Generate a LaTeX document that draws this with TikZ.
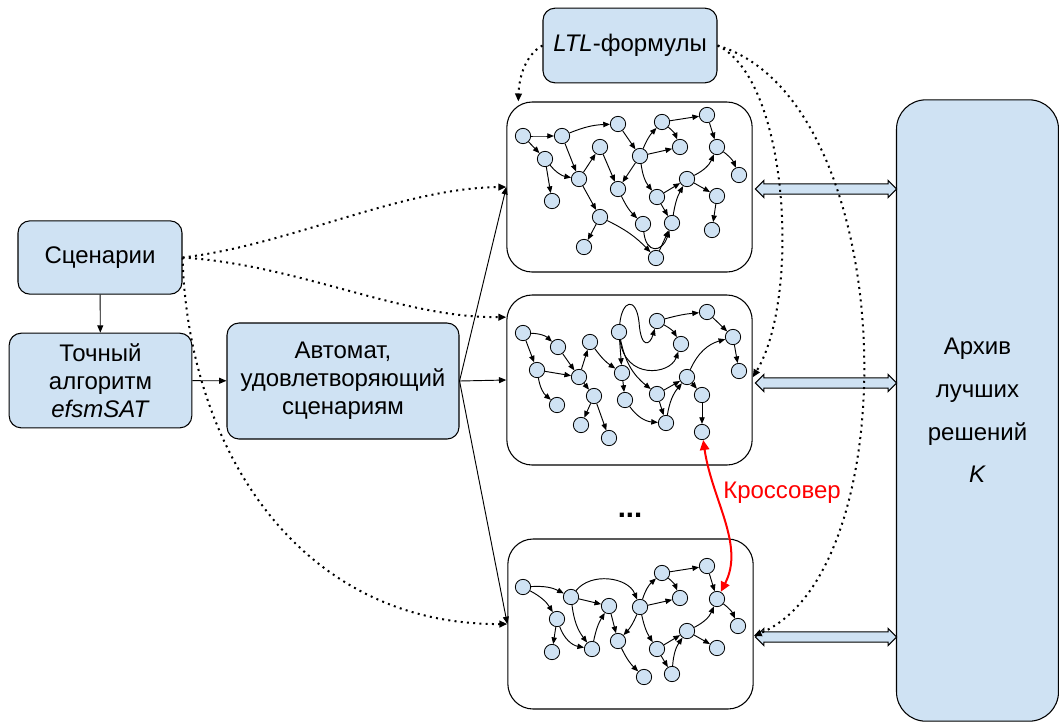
\documentclass[tikz,border=0pt]{standalone}
\usepackage{fontspec}
\setmainfont{Liberation Sans}
\usetikzlibrary{arrows.meta,shapes.arrows,calc}
\definecolor{boxFill}{HTML}{CFE2F3}
\definecolor{xoColor}{HTML}{FF0000}
\tikzset{
	block/.style={draw, rounded corners=9pt, fill=boxFill, line width=0.8pt, align=center, inner sep=0pt},
	pool/.style={draw, rounded corners=19pt, line width=0.8pt, minimum width=184pt, minimum height=127.5pt, inner sep=0pt},
	st/.style={circle, draw, fill=boxFill, line width=0.6pt, minimum size=11.5pt, inner sep=0pt},
	tr/.style={-{Triangle[length=5pt,width=4pt]}, line width=0.7pt},
	flow/.style={-{Triangle[length=5.5pt,width=4.5pt]}, line width=0.7pt},
	dots/.style={-{Triangle[length=6pt,width=5pt]}, line width=1.5pt, dash pattern=on 1.5pt off 3.2pt},
	exch/.style={double arrow, draw, fill=boxFill, line width=0.8pt, minimum height=106pt, inner xsep=0pt, inner ysep=3.4pt, double arrow head extend=2.6pt}
}
\begin{document}
\begin{tikzpicture}[x=0.75pt, y=-0.75pt, font=\fontsize{18}{21}\selectfont]
	\useasboundingbox (0,0) rectangle (1059,722);
	\node[block, minimum width=123pt, minimum height=55pt] (scen) at (100,257.5) {Сценарии};
	\node[block, minimum width=137pt, minimum height=71pt] (exact) at (100.5,380.5) {Точный\\алгоритм\\\textit{efsmSAT}};
	\node[block, minimum width=174pt, minimum height=87pt] (auto) at (343,381) {Автомат,\\удовлетворяющий\\сценариям};
	\node[block, minimum width=130.5pt, minimum height=56pt] (ltl) at (630,45.5) {\textit{LTL}-формулы};
	\node[block, rounded corners=22pt, minimum width=121.5pt, minimum height=466pt, font=\fontsize{18}{32}\selectfont] (arch) at (977.5,410.5) {Архив\\лучших\\решений\\\textit{K}};
	
	\node[pool] (g1) at (629.5,187) {};
	\node[pool] (g2) at (629.5,380) {};
	\node[pool] (g3) at (630.5,624) {};
	\node[font=\fontsize{22}{24}\selectfont\bfseries] (etc) at (630,515) {...};
	
	\node[exch] (e1) at (826,189) {};
	\node[exch] (e2) at (826,383) {};
	\node[exch] (e3) at (826,637) {};
	
	% automata in the population
	\foreach \n/\x/\y in {a1/523/136, a2/562/136, a3/618/124, a4/662/122, a5/707/115, a6/545/159, a7/600/147, a8/640/156, a9/680/147, a10/717/147, a11/579/179, a12/618/189, a13/687/179, a14/739/175, a15/552/201, a16/657/197, a17/717/196, a18/600/217, a19/643/224, a20/672/223, a21/712/230, a22/584/247, a23/656/258,
		b1/523/333, b2/558/347, b3/590/342, b4/619/332, b5/657/321, b6/707/312, b7/733/337, b8/537/370, b9/579/377, b10/622/373, b11/681/344, b12/739/371, b13/557/405, b14/594/396, b15/625/400, b16/657/394, b17/687/377, b18/702/395, b19/581/425, b20/609/438, b21/666/423, b22/702/432,
		c1/523/587, c2/571/597, c3/609/606, c4/640/607, c5/662/573, c6/707/566, c7/717/599, c8/680/598, c9/557/619, c10/738/626, c11/618/641, c12/687/631, c13/657/649, c14/717/648, c15/552/652, c16/592/649, c17/644/677, c18/672/674}
		\node[st] (\n) at (\x,\y) {};
	
	\foreach \s/\t/\b in {a1/a2/0, a1/a6/0, a2/a3/10, a2/a11/0, a6/a15/0, a6/a11/-20, a11/a7/0, a11/a18/0, a7/a12/0, a3/a8/0, a8/a12/0, a8/a4/10, a8/a9/0, a4/a9/15, a4/a5/0, a5/a10/0, a10/a14/15, a8/a16/-15, a16/a13/0, a13/a10/-20, a13/a17/0, a17/a21/0, a16/a20/0, a12/a19/-10, a18/a22/0, a18/a23/10, a23/a20/0, a20/a13/10,
		b1/b2/20, b1/b8/0, b2/b9/0, b8/b9/0, b8/b13/-20, b9/b3/0, b9/b14/0, b3/b10/-10, b14/b19/0, b14/b20/0, b4/b10/0, b10/b15/0, b15/b21/-25, b4/b16/-20, b5/b11/15, b5/b6/5, b6/b7/0, b7/b12/0, b16/b17/0, b16/b21/0, b21/b17/15, b17/b7/25, b17/b18/0, b18/b22/0,
		c1/c2/15, c1/c9/15, c2/c3/0, c2/c4/60, c2/c16/-15, c9/c15/0, c9/c16/-30, c16/c3/10, c3/c11/0, c4/c11/10, c4/c5/15, c4/c8/0, c4/c13/-10, c5/c8/15, c5/c6/0, c6/c7/0, c7/c10/15, c13/c12/0, c13/c18/0, c18/c12/15, c12/c7/-20, c12/c14/0, c11/c17/-10}
		\draw[tr] (\s) to[bend left=\b] (\t);
	\draw[tr] (a19) .. controls +(3,30) and +(-10,30) .. (a20);
	\draw[tr] (b4) .. controls (622,300) and (636,296) .. (639,322) .. controls (641,350) and (650,345) .. (b5);
	\draw[tr] (b4) .. controls (625,380) and (670,375) .. (b11);
	
	\draw[flow] (scen) -- (exact);
	\draw[flow] (exact) -- (auto);
	\draw[flow] (auto.east) -- (g1.west);
	\draw[flow] (auto.east) -- (g2.west);
	\draw[flow] (auto.east) -- (g3.west);
	
	\draw[dots] (scen.east) .. controls (290,245) and (400,188) .. (g1.west);
	\draw[dots] (scen.east) .. controls (300,265) and (400,318) .. ([yshift=-17pt]g2.north west);
	\draw[dots] (scen.east) .. controls (188,450) and (300,625) .. (g3.west);
	\draw[dots] (ltl.west) .. controls (525,55) and (519,78) .. ([xshift=9pt]g1.north west);
	\draw[dots] (ltl.east) .. controls (790,80) and (800,300) .. ([yshift=2pt]g2.east);
	\draw[dots] (ltl.east) .. controls (900,100) and (910,570) .. ([yshift=-9pt]g3.east);
	
	\draw[{Triangle[length=7.5pt,width=7pt]}-{Triangle[length=7.5pt,width=7pt]}, xoColor, line width=1.5pt] (b22) .. controls (712,500) and (745,545) .. (c7);
	\node[text=xoColor] (xo) at (782,493) {Кроссовер};
\end{tikzpicture}
\end{document}
